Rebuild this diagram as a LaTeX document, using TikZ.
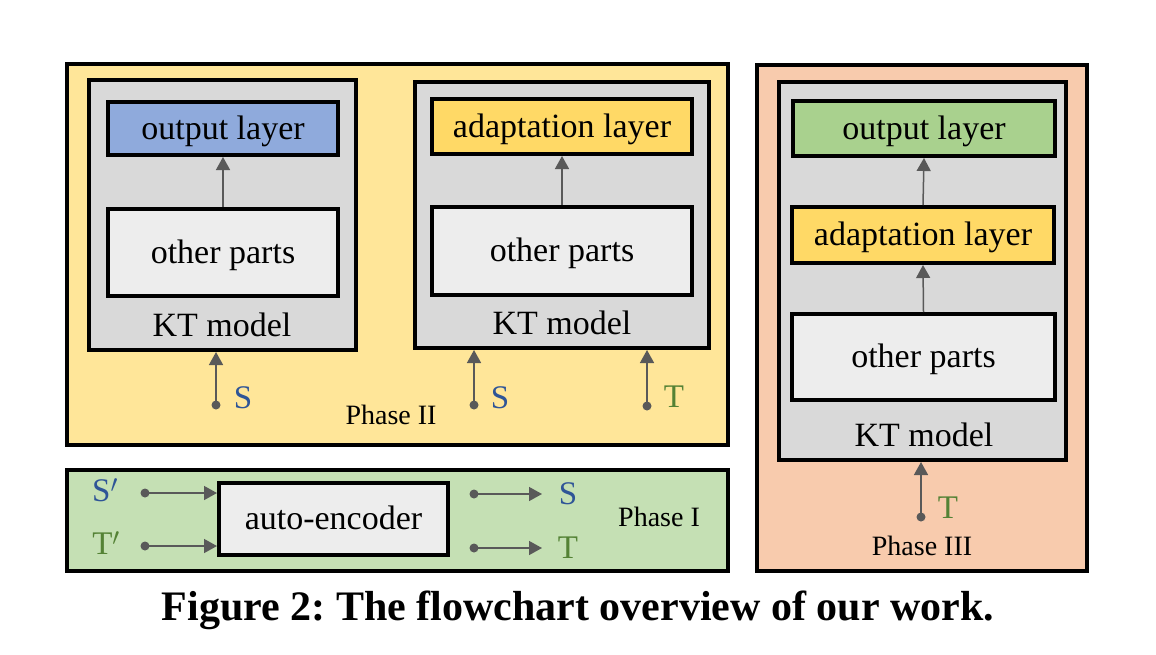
\documentclass[tikz,border=0pt]{standalone}
\usepackage{fontspec}
\setmainfont{Liberation Serif}
\usetikzlibrary{arrows.meta}
\definecolor{phIIfill}{HTML}{FFE699}
\definecolor{phIIIfill}{HTML}{F8CBAD}
\definecolor{phIfill}{HTML}{C5E0B4}
\definecolor{ktgray}{HTML}{D9D9D9}
\definecolor{partsgray}{HTML}{EDEDED}
\definecolor{outblue}{HTML}{8FAADC}
\definecolor{adaptyellow}{HTML}{FFD966}
\definecolor{outgreen}{HTML}{A9D18E}
\definecolor{sblue}{HTML}{2F5597}
\definecolor{tgreen}{HTML}{548235}
\definecolor{arrgray}{HTML}{595959}
\tikzset{
  phasebox/.style={draw=black, line width=4pt, inner sep=0pt, outer sep=2pt},
  blockbox/.style={draw=black, line width=4pt, inner sep=0pt, outer sep=2pt,
    text depth=2pt, font=\fontsize{34}{40}\selectfont},
  lbl/.style={inner sep=0pt, font=\fontsize{34}{40}\selectfont},
  phaselbl/.style={inner sep=0pt, font=\fontsize{28}{32}\selectfont},
  svar/.style={inner sep=0pt, text=sblue, font=\fontsize{33}{38}\selectfont},
  tvar/.style={inner sep=0pt, text=tgreen, font=\fontsize{33}{38}\selectfont},
  flow/.style={draw=arrgray, line width=1.5pt, -{Triangle[length=13pt,width=14pt]}},
  dotstart/.style={circle, fill=arrgray, inner sep=0pt, minimum size=9pt, outer sep=0pt}
}
\begin{document}
\begin{tikzpicture}[x=1pt,y=-1pt]
\useasboundingbox (0,0) rectangle (1156,654);
% phase boxes
\node[phasebox, fill=phIIfill, minimum width=661, minimum height=381] (ph2) at (397.5,254.5) {};
\node[phasebox, fill=phIIIfill, minimum width=330, minimum height=506] (ph3) at (922,318) {};
\node[phasebox, fill=phIfill, minimum width=661, minimum height=101] (ph1) at (397.5,520.5) {};
% KT model 1
\node[blockbox, fill=ktgray, minimum width=267, minimum height=270] (kt1) at (222.5,215) {};
\node[blockbox, fill=outblue, minimum width=230, minimum height=53] (out1) at (223,128.5) {output layer};
\node[blockbox, fill=partsgray, minimum width=230, minimum height=87] (oth1) at (223,252.5) {other parts};
\node[lbl] (ktl1) at (222,325) {KT model};
\draw[flow] (oth1.north) -- (out1.south);
% KT model 2
\node[blockbox, fill=ktgray, minimum width=294, minimum height=266] (kt2) at (562,215) {};
\node[blockbox, fill=adaptyellow, minimum width=260, minimum height=55] (ad2) at (562,126.5) {adaptation layer};
\node[blockbox, fill=partsgray, minimum width=260, minimum height=88] (oth2) at (562,251) {other parts};
\node[lbl] (ktl2) at (562,323) {KT model};
\draw[flow] (oth2.north) -- (ad2.south);
% Phase II inputs
\node[dotstart] (s1) at (216,405) {};
\draw[flow] (s1.center) -- (s1.center |- kt1.south);
\node[svar] (s1l) at (243,398) {S};
\node[dotstart] (s2) at (474,405) {};
\draw[flow] (s2.center) -- (s2.center |- kt2.south);
\node[svar] (s2l) at (500,398) {S};
\node[dotstart] (t2) at (647,406) {};
\draw[flow] (t2.center) -- (t2.center |- kt2.south);
\node[tvar] (t2l) at (674,397) {T};
\node[phaselbl] (p2l) at (391,415) {Phase II};
% KT model 3
\node[blockbox, fill=ktgray, minimum width=287, minimum height=378] (kt3) at (922.5,271) {};
\node[blockbox, fill=outgreen, minimum width=262, minimum height=55] (out3) at (924,128.5) {output layer};
\node[blockbox, fill=adaptyellow, minimum width=262, minimum height=56] (ad3) at (923,235) {adaptation layer};
\node[blockbox, fill=partsgray, minimum width=263, minimum height=86] (oth3) at (923.5,357) {other parts};
\node[lbl] (ktl3) at (924,435) {KT model};
\draw[flow] (oth3.north) -- (ad3.south);
\draw[flow] (ad3.north) -- (out3.south);
\node[dotstart] (t3) at (921,517) {};
\draw[flow] (t3.center) -- (t3.center |- kt3.south);
\node[tvar] (t3l) at (948,508) {T};
\node[phaselbl] (p3l) at (922,546) {Phase III};
% Phase I
\node[blockbox, fill=partsgray, minimum width=229, minimum height=72] (ae) at (333.5,519) {auto-encoder};
\node[svar] (spl) at (105,490) {S$'$};
\node[tvar] (tpl) at (106,543) {T$'$};
\node[dotstart] (sp) at (145,493) {};
\node[dotstart] (tp) at (145,546) {};
\draw[flow] (sp.center) -- (sp.center -| ae.west);
\draw[flow] (tp.center) -- (tp.center -| ae.west);
\node[dotstart] (so) at (474,494) {};
\node[dotstart] (to) at (474,548) {};
\coordinate (soe) at (542,494);
\coordinate (toe) at (542,548);
\draw[flow] (so.center) -- (soe);
\draw[flow] (to.center) -- (toe);
\node[svar] (sol) at (568,494) {S};
\node[tvar] (tol) at (568,548) {T};
\node[phaselbl] (p1l) at (659,517) {Phase I};
% caption
\node[inner sep=0pt, font=\fontsize{42}{48}\selectfont\bfseries\frenchspacing] (cap) at (578,610) {Figure 2: The flowchart overview of our work.};
\end{tikzpicture}
\end{document}
